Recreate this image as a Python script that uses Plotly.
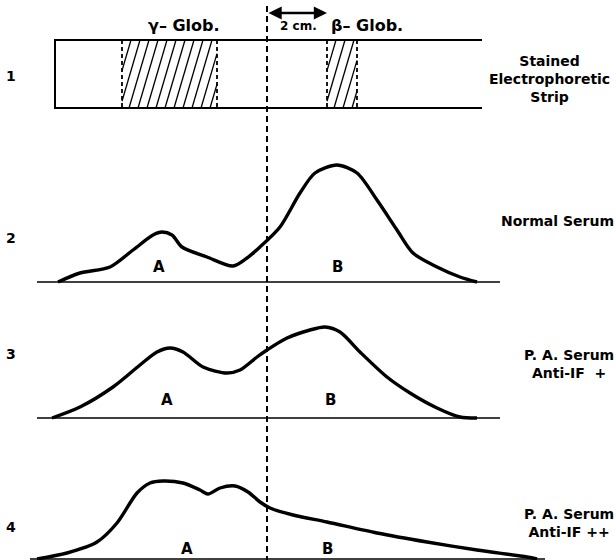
import plotly.graph_objects as go

# ---------------- data (figure units: x to the right, y downward) ----------------
row_numbers = ["1", "2", "3", "4"]
row_number_y = [76, 238, 354, 527]

right_labels = ["Stained<br>Electrophoretic<br>Strip", "Normal Serum",
                "P. A. Serum<br>Anti-IF  +", "P. A. Serum<br>Anti-IF ++"]
right_label_y = [79, 221, 364, 523]
right_label_x = [549, 616, 616, 616]
right_label_anchor = ["center", "right", "right", "right"]

strip_x = [55, 482]
strip_y = [40, 108]
band_names = ["γ– Glob.", "β– Glob."]
band_left = [122, 327]
band_right = [217, 357]

divider_x = 267
scale_arrow_x = [267, 327]
scale_label = "2 cm."

baselines = [282, 418, 559]
baseline_start = [37, 37, 30]
baseline_end = [500, 500, 545]

normal_x = [58, 80, 110, 133, 153, 162, 172, 182, 207, 233, 247, 260, 280, 300, 315,
            337, 357, 377, 397, 413, 437, 460, 477]
normal_y = [282, 273, 267, 250, 235, 232, 235, 247, 257, 266, 258, 247, 227, 193, 173,
            165, 173, 200, 230, 253, 267, 277, 282]

pa1_x = [52, 80, 113, 140, 157, 170, 183, 203, 227, 240, 257, 267, 287, 310, 325, 340,
         360, 387, 410, 437, 460, 477]
pa1_y = [418, 407, 387, 365, 352, 348, 352, 367, 373, 370, 357, 350, 338, 330, 327, 332,
         352, 377, 393, 408, 417, 418]

pa2_x = [37, 67, 97, 117, 137, 150, 163, 183, 200, 208, 220, 235, 248, 260, 270, 293,
         327, 377, 427, 477, 527, 537]
pa2_y = [559, 553, 542, 523, 493, 483, 481, 483, 490, 494, 488, 486, 492, 502, 508, 515,
         522, 533, 542, 550, 557, 559]

curves = [(normal_x, normal_y), (pa1_x, pa1_y), (pa2_x, pa2_y)]
peak_labels = ["A", "B"]
label_A_x = [159, 167, 187]
label_B_x = [337, 330, 327]
label_y = [267, 400, 549]

W, H = 616, 560
FONT = "DejaVu Sans"
fig = go.Figure()

# strip outline (top, bottom, left edge)
fig.add_trace(go.Scatter(x=[strip_x[1], strip_x[0], strip_x[0], strip_x[1]],
                         y=[strip_y[0], strip_y[0], strip_y[1], strip_y[1]],
                         mode="lines", line=dict(color="black", width=2),
                         hoverinfo="skip", showlegend=False))

# hatched bands
slope_dx = 20.0  # horizontal run of a hatch line across the strip height
spacing = 9.0
for bl, br in zip(band_left, band_right):
    hx, hy = [], []
    y0, y1 = strip_y[1], strip_y[0]
    h = y0 - y1
    x = bl - slope_dx
    while x < br:
        xa = x
        ta = max(0.0, (bl - xa) / slope_dx)
        tb = min(1.0, (br - xa) / slope_dx)
        if tb > ta:
            hx += [xa + ta * slope_dx, xa + tb * slope_dx, None]
            hy += [y0 - ta * h, y0 - tb * h, None]
        x += spacing
    fig.add_trace(go.Scatter(x=hx, y=hy, mode="lines",
                             line=dict(color="black", width=1.3),
                             hoverinfo="skip", showlegend=False))
    for ex in (bl, br):
        fig.add_trace(go.Scatter(x=[ex, ex], y=strip_y, mode="lines",
                                 line=dict(color="black", width=1.8, dash="4px,3px"),
                                 hoverinfo="skip", showlegend=False))

# vertical divider
fig.add_trace(go.Scatter(x=[divider_x, divider_x], y=[6, H], mode="lines",
                         line=dict(color="black", width=2, dash="6px,4px"),
                         hoverinfo="skip", showlegend=False))

# baselines
for b, s, e in zip(baselines, baseline_start, baseline_end):
    fig.add_trace(go.Scatter(x=[s, e], y=[b, b], mode="lines",
                             line=dict(color="black", width=1.6),
                             hoverinfo="skip", showlegend=False))

# densitometer curves
for cx, cy in curves:
    fig.add_trace(go.Scatter(x=cx, y=cy, mode="lines",
                             line=dict(color="black", width=3.4, shape="spline", smoothing=0.8),
                             hoverinfo="skip", showlegend=False))

annotations = []
tf = dict(family=FONT, size=14, color="black")
pf = dict(family=FONT, size=15, color="black")
# row numbers
for t, y in zip(row_numbers, row_number_y):
    annotations.append(dict(x=11, y=y, text="<b>%s</b>" % t, showarrow=False,
                            font=tf, xanchor="center", yanchor="middle"))
# right labels
for t, x, y, anc in zip(right_labels, right_label_x, right_label_y, right_label_anchor):
    annotations.append(dict(x=x, y=y, text="<b>%s</b>" % t, showarrow=False,
                            font=dict(family=FONT, size=14, color="black"),
                            xanchor=anc, yanchor="middle", align="center"))
# peak labels
for ax_, bx_, y in zip(label_A_x, label_B_x, label_y):
    annotations.append(dict(x=ax_, y=y, text="<b>%s</b>" % peak_labels[0], showarrow=False,
                            font=pf, xanchor="center", yanchor="middle"))
    annotations.append(dict(x=bx_, y=y, text="<b>%s</b>" % peak_labels[1], showarrow=False,
                            font=pf, xanchor="center", yanchor="middle"))
# band names
bf = dict(family=FONT, size=16, color="black")
annotations.append(dict(x=(band_left[0] + band_right[0]) / 2 + 14, y=25,
                        text="<b>%s</b>" % band_names[0], showarrow=False, font=bf,
                        xanchor="center", yanchor="middle"))
annotations.append(dict(x=band_left[1] + 2, y=25, text="<b>%s</b>" % band_names[1],
                        showarrow=False, font=bf, xanchor="left", yanchor="middle"))
# scale label and double arrow
annotations.append(dict(x=(scale_arrow_x[0] + scale_arrow_x[1]) / 2 + 1, y=26,
                        text="<b>%s</b>" % scale_label, showarrow=False,
                        font=dict(family=FONT, size=12, color="black"),
                        xanchor="center", yanchor="middle"))
annotations.append(dict(x=scale_arrow_x[1], y=13, ax=scale_arrow_x[0], ay=13,
                        xref="x", yref="y", axref="x", ayref="y", text="",
                        showarrow=True, arrowhead=2, startarrowhead=2,
                        arrowside="end+start", arrowsize=1.1, arrowwidth=2.4,
                        arrowcolor="black"))

fig.update_layout(
    width=W, height=H, margin=dict(l=0, r=0, t=0, b=0),
    paper_bgcolor="white", plot_bgcolor="white",
    xaxis=dict(range=[0, W], visible=False, fixedrange=True),
    yaxis=dict(range=[H, 0], visible=False, fixedrange=True),
    annotations=annotations, showlegend=False,
)
fig.write_html("out.html", config={"displayModeBar": False},
               post_script="document.body.style.margin='0';document.body.style.overflow='hidden';")
